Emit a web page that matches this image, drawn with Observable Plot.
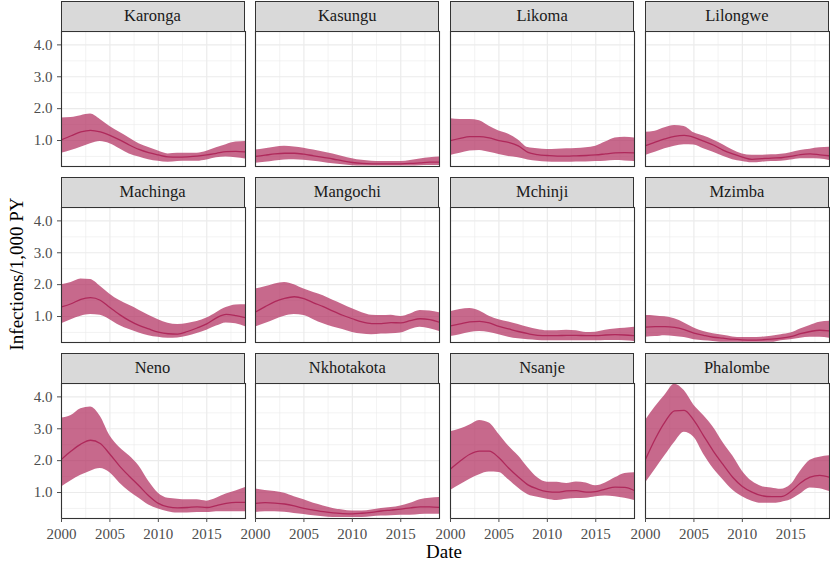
<!DOCTYPE html>
<html><head><meta charset="utf-8">
<script src="https://cdn.jsdelivr.net/npm/d3@7"></script>
<script src="https://cdn.jsdelivr.net/npm/@observablehq/plot@0.6"></script>
<style>
body{margin:0;background:#fff;}
#chart{position:relative;width:830px;height:561px;font-family:"Liberation Serif",serif;overflow:hidden;}
#chart svg{position:absolute;overflow:visible;}
.strip{position:absolute;box-sizing:border-box;background:#d9d9d9;border:1.1px solid #333;text-align:center;font-family:"Liberation Serif",serif;font-size:16.5px;color:#1a1a1a;line-height:28px;}
.title{position:absolute;font-family:"Liberation Serif",serif;font-size:19px;line-height:1;color:#000;white-space:nowrap;}
</style></head><body><div id="chart"></div>
<script>
const years = [2000,2001,2002,2003,2004,2005,2006,2007,2008,2009,2010,2011,2012,2013,2014,2015,2016,2017,2018,2019];
const districts = ["Karonga","Kasungu","Likoma","Lilongwe","Machinga","Mangochi","Mchinji","Mzimba","Neno","Nkhotakota","Nsanje","Phalombe"];

const karongaMid = [1.02,1.15,1.27,1.32,1.27,1.16,1.02,0.86,0.72,0.62,0.55,0.49,0.48,0.49,0.51,0.55,0.60,0.65,0.66,0.64];
const karongaLo  = [0.60,0.69,0.79,0.90,0.97,0.90,0.74,0.58,0.48,0.40,0.35,0.32,0.34,0.35,0.35,0.39,0.46,0.48,0.46,0.42];
const karongaHi  = [1.71,1.72,1.78,1.83,1.66,1.44,1.26,1.08,0.90,0.78,0.67,0.58,0.60,0.60,0.60,0.66,0.77,0.87,0.95,0.97];

const kasunguMid = [0.50,0.54,0.58,0.60,0.60,0.57,0.52,0.47,0.42,0.36,0.31,0.28,0.27,0.27,0.27,0.27,0.28,0.30,0.32,0.32];
const kasunguLo  = [0.29,0.32,0.36,0.39,0.40,0.38,0.35,0.31,0.27,0.24,0.21,0.20,0.20,0.20,0.20,0.20,0.20,0.21,0.22,0.22];
const kasunguHi  = [0.70,0.74,0.79,0.82,0.80,0.76,0.70,0.64,0.58,0.50,0.43,0.38,0.35,0.34,0.34,0.34,0.37,0.42,0.46,0.48];

const likomaMid = [1.00,1.07,1.12,1.12,1.08,1.00,0.94,0.83,0.63,0.56,0.53,0.51,0.51,0.52,0.53,0.55,0.58,0.61,0.62,0.61];
const likomaLo  = [0.53,0.60,0.67,0.69,0.63,0.56,0.50,0.46,0.39,0.35,0.33,0.32,0.32,0.33,0.33,0.34,0.35,0.37,0.36,0.34];
const likomaHi  = [1.68,1.66,1.66,1.62,1.45,1.30,1.20,1.02,0.78,0.74,0.72,0.73,0.74,0.75,0.77,0.82,0.95,1.08,1.10,1.08];

const lilongweMid = [0.84,0.95,1.05,1.13,1.16,1.10,0.98,0.86,0.70,0.58,0.48,0.41,0.43,0.45,0.46,0.50,0.56,0.58,0.55,0.52];
const lilongweLo  = [0.53,0.63,0.74,0.82,0.87,0.86,0.74,0.63,0.51,0.40,0.34,0.30,0.32,0.34,0.35,0.39,0.43,0.43,0.42,0.37];
const lilongweHi  = [1.26,1.29,1.40,1.47,1.44,1.24,1.14,1.02,0.87,0.70,0.58,0.54,0.54,0.55,0.57,0.62,0.69,0.73,0.77,0.79];

const machingaMid = [1.30,1.40,1.54,1.59,1.51,1.28,1.06,0.87,0.72,0.61,0.51,0.46,0.45,0.53,0.64,0.77,0.96,1.07,1.03,0.96];
const machingaLo  = [0.77,0.90,1.01,1.06,1.04,0.90,0.72,0.59,0.48,0.40,0.35,0.32,0.33,0.38,0.47,0.57,0.70,0.80,0.77,0.68];
const machingaHi  = [2.00,2.07,2.18,2.16,1.95,1.70,1.50,1.35,1.20,1.04,0.90,0.79,0.75,0.78,0.84,0.95,1.12,1.28,1.36,1.37];

const mangochiMid = [1.14,1.31,1.47,1.57,1.62,1.56,1.43,1.31,1.17,1.04,0.93,0.83,0.78,0.78,0.81,0.80,0.87,0.93,0.90,0.82];
const mangochiLo  = [0.67,0.78,0.90,1.01,1.06,1.03,0.90,0.77,0.67,0.59,0.50,0.45,0.43,0.45,0.46,0.48,0.59,0.66,0.62,0.53];
const mangochiHi  = [1.86,1.93,2.02,2.07,2.00,1.86,1.75,1.65,1.51,1.38,1.24,1.12,1.04,1.03,1.04,1.00,1.08,1.19,1.17,1.12];

const mchinjiMid = [0.71,0.77,0.83,0.85,0.80,0.69,0.61,0.53,0.46,0.41,0.40,0.40,0.41,0.41,0.40,0.40,0.42,0.43,0.42,0.40];
const mchinjiLo  = [0.37,0.43,0.50,0.53,0.50,0.43,0.35,0.30,0.27,0.25,0.24,0.24,0.24,0.24,0.24,0.24,0.25,0.25,0.24,0.22];
const mchinjiHi  = [1.15,1.22,1.25,1.17,1.01,0.90,0.83,0.75,0.66,0.59,0.55,0.55,0.57,0.55,0.50,0.51,0.57,0.61,0.63,0.66];

const mzimbaMid = [0.67,0.68,0.68,0.66,0.59,0.48,0.41,0.35,0.32,0.29,0.27,0.26,0.27,0.29,0.32,0.37,0.46,0.53,0.57,0.55];
const mzimbaLo  = [0.35,0.37,0.40,0.37,0.34,0.27,0.24,0.22,0.19,0.19,0.19,0.19,0.19,0.19,0.24,0.27,0.32,0.35,0.35,0.32];
const mzimbaHi  = [1.03,1.02,0.99,0.93,0.80,0.64,0.53,0.46,0.41,0.36,0.34,0.34,0.35,0.38,0.43,0.48,0.61,0.72,0.82,0.85];

const nenoMid = [2.04,2.30,2.52,2.64,2.54,2.20,1.83,1.51,1.21,0.90,0.66,0.55,0.52,0.53,0.55,0.53,0.59,0.66,0.69,0.69];
const nenoLo  = [1.17,1.37,1.54,1.67,1.75,1.62,1.30,1.03,0.82,0.61,0.48,0.40,0.36,0.36,0.37,0.37,0.40,0.40,0.40,0.40];
const nenoHi  = [3.34,3.42,3.63,3.68,3.39,2.78,2.41,2.15,1.83,1.35,0.98,0.82,0.79,0.77,0.77,0.73,0.82,0.95,1.05,1.16];

const nkhotakotaMid = [0.66,0.68,0.67,0.64,0.58,0.50,0.45,0.40,0.36,0.34,0.33,0.35,0.38,0.42,0.45,0.48,0.52,0.55,0.55,0.53];
const nkhotakotaLo  = [0.37,0.40,0.40,0.38,0.34,0.31,0.27,0.24,0.22,0.22,0.22,0.22,0.24,0.26,0.27,0.29,0.29,0.31,0.32,0.32];
const nkhotakotaHi  = [1.11,1.06,1.03,0.98,0.87,0.77,0.66,0.58,0.50,0.45,0.42,0.42,0.45,0.50,0.53,0.58,0.66,0.77,0.82,0.84];

const nsanjeMid = [1.74,1.99,2.20,2.30,2.30,2.09,1.77,1.49,1.24,1.11,1.03,1.01,1.05,1.06,1.01,1.03,1.11,1.17,1.16,1.06];
const nsanjeLo  = [1.06,1.24,1.42,1.56,1.64,1.63,1.40,1.14,0.93,0.85,0.79,0.75,0.79,0.81,0.82,0.87,0.89,0.87,0.82,0.75];
const nsanjeHi  = [2.91,2.99,3.12,3.26,3.18,2.83,2.46,2.15,1.78,1.46,1.32,1.32,1.28,1.33,1.30,1.21,1.30,1.46,1.60,1.62];

const phalombeMid = [2.04,2.68,3.21,3.56,3.58,3.26,2.78,2.30,1.88,1.48,1.19,1.01,0.90,0.87,0.87,1.03,1.30,1.48,1.54,1.48];
const phalombeLo  = [1.30,1.72,2.15,2.57,2.89,2.73,2.20,1.75,1.40,1.08,0.87,0.73,0.66,0.66,0.69,0.77,0.95,1.14,1.12,1.03];
const phalombeHi  = [3.26,3.68,4.05,4.40,4.20,3.74,3.42,3.05,2.57,2.15,1.67,1.35,1.19,1.14,1.10,1.24,1.67,2.01,2.11,2.15];

const xMajor = [2000,2005,2010,2015];
const xMinor = [2002.5,2007.5,2012.5,2017.5];
const yMajor = [1,2,3,4];
const yMinor = [0.5,1.5,2.5,3.5];
const xTitle = "Date";
const yTitle = "Infections/1,000 PY";

const seriesBy = {
  Karonga:[karongaMid,karongaLo,karongaHi], Kasungu:[kasunguMid,kasunguLo,kasunguHi],
  Likoma:[likomaMid,likomaLo,likomaHi], Lilongwe:[lilongweMid,lilongweLo,lilongweHi],
  Machinga:[machingaMid,machingaLo,machingaHi], Mangochi:[mangochiMid,mangochiLo,mangochiHi],
  Mchinji:[mchinjiMid,mchinjiLo,mchinjiHi], Mzimba:[mzimbaMid,mzimbaLo,mzimbaHi],
  Neno:[nenoMid,nenoLo,nenoHi], Nkhotakota:[nkhotakotaMid,nkhotakotaLo,nkhotakotaHi],
  Nsanje:[nsanjeMid,nsanjeLo,nsanjeHi], Phalombe:[phalombeMid,phalombeLo,phalombeHi]
};

const chart = document.getElementById("chart");
const COL = "#af295b";
const panelW = 184, panelH = 135, colStep = 194.8, rowStep = 176, left0 = 60.5, top0 = 31, stripH = 30;

districts.forEach((name, i) => {
  const col = i % 4, row = Math.floor(i / 4);
  const [mid, lo, hi] = seriesBy[name];
  const data = years.map((yr, k) => ({year: yr, mid: mid[k], lo: lo[k], hi: hi[k]}));
  const ml = col === 0 ? 60 : 0;
  const mb = row === 2 ? 26 : 0;
  const marks = [
    Plot.ruleX(xMinor, {stroke: "#ebebeb", strokeWidth: 0.6}),
    Plot.ruleY(yMinor, {stroke: "#ebebeb", strokeWidth: 0.6}),
    Plot.ruleX(xMajor, {stroke: "#ebebeb", strokeWidth: 1.2}),
    Plot.ruleY(yMajor, {stroke: "#ebebeb", strokeWidth: 1.2}),
    Plot.areaY(data, {x: "year", y1: "lo", y2: "hi", fill: COL, fillOpacity: 0.7, curve: "monotone-x", clip: true}),
    Plot.lineY(data, {x: "year", y: "mid", stroke: COL, strokeWidth: 1.3, curve: "monotone-x", clip: true}),
    Plot.frame({stroke: "#333", strokeWidth: 1.1})
  ];
  if (col === 0) marks.push(Plot.axisY({ticks: yMajor, tickFormat: d => d.toFixed(1), tickSize: 4, tickPadding: 5, fontSize: 15, color: "#4d4d4d", label: null}));
  if (row === 2) marks.push(Plot.axisX({ticks: xMajor, tickFormat: d => String(d), tickSize: 4, tickPadding: 6, fontSize: 15, color: "#4d4d4d", label: null}));
  const svg = Plot.plot({
    width: panelW + ml, height: panelH + mb,
    marginLeft: ml, marginRight: 0, marginTop: 0, marginBottom: mb,
    style: {fontFamily: "Liberation Serif", background: "transparent", fontSize: "15px"},
    x: {type: "linear", domain: [2000, 2019], axis: null},
    y: {type: "linear", domain: [0.185, 4.42], axis: null},
    marks
  });
  const left = left0 + col * colStep, top = top0 + row * rowStep;
  svg.style.left = (left - ml) + "px";
  svg.style.top = top + "px";
  chart.appendChild(svg);
  const strip = document.createElement("div");
  strip.className = "strip";
  strip.textContent = name;
  strip.style.left = left + "px";
  strip.style.top = (top - stripH) + "px";
  strip.style.width = panelW + "px";
  strip.style.height = (stripH + 0.5) + "px";
  chart.appendChild(strip);
});

const xt = document.createElement("div");
xt.className = "title"; xt.textContent = xTitle;
xt.style.left = "444px"; xt.style.top = "542px"; xt.style.transform = "translateX(-50%)";
chart.appendChild(xt);
const yt = document.createElement("div");
yt.className = "title"; yt.textContent = yTitle;
yt.style.left = "16px"; yt.style.top = "274px"; yt.style.transform = "translate(-50%,-50%) rotate(-90deg)";
chart.appendChild(yt);
</script></body></html>
